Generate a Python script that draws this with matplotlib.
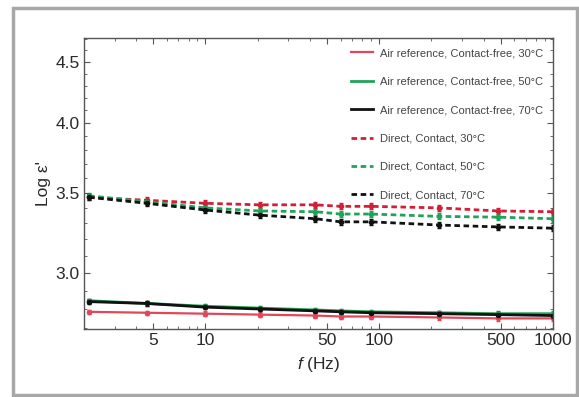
import numpy as np
import matplotlib
matplotlib.use("Agg")
import matplotlib.pyplot as plt
from matplotlib.patches import Rectangle
from matplotlib.lines import Line2D
from matplotlib.ticker import FixedLocator, NullFormatter, FixedFormatter, LogLocator

plt.rcParams['font.family'] = ['Liberation Sans', 'DejaVu Sans']
plt.rcParams['mathtext.fontset'] = 'custom'
plt.rcParams['mathtext.it'] = 'Liberation Sans:italic'
plt.rcParams['mathtext.rm'] = 'Liberation Sans'

# frequency points (Hz)
freq = [2.14, 4.6, 10, 20.5, 43, 60, 90, 220, 482, 1000]

# contact-free, air reference
air_30 = [2.785, 2.78, 2.775, 2.77, 2.765, 2.76, 2.76, 2.755, 2.75, 2.75]
air_50 = [2.845, 2.83, 2.815, 2.805, 2.795, 2.79, 2.785, 2.78, 2.775, 2.775]
air_70 = [2.84, 2.83, 2.81, 2.80, 2.79, 2.785, 2.78, 2.775, 2.77, 2.765]

# direct contact
dir_30 = [3.47, 3.45, 3.43, 3.42, 3.42, 3.41, 3.41, 3.40, 3.38, 3.375]
dir_50 = [3.48, 3.44, 3.40, 3.38, 3.375, 3.36, 3.36, 3.345, 3.34, 3.33]
dir_70 = [3.47, 3.43, 3.386, 3.353, 3.33, 3.31, 3.31, 3.29, 3.278, 3.27]

air_err = 0.012
dir_err = 0.02

labels = ['Air reference, Contact-free, 30\u00b0C',
          'Air reference, Contact-free, 50\u00b0C',
          'Air reference, Contact-free, 70\u00b0C',
          'Direct, Contact, 30\u00b0C',
          'Direct, Contact, 50\u00b0C',
          'Direct, Contact, 70\u00b0C']

red_light = '#e0485a'
red = '#d21f36'
green = '#1fa35a'
black = '#111111'
dash = (0, (2.0, 1.3))

fig = plt.figure(figsize=(5.79, 3.97), dpi=100)
ax = fig.add_axes([0.145, 0.171, 0.81, 0.733])

series = [
    (air_30, air_err, red_light, '-', 1.6),
    (air_50, air_err, green, '-', 2.0),
    (air_70, air_err, black, '-', 2.0),
    (dir_30, dir_err, red, dash, 2.0),
    (dir_50, dir_err, green, dash, 2.0),
    (dir_70, dir_err, black, dash, 2.0),
]

handles = []
for (vals, e, col, ls, lw), lab in zip(series, labels):
    ax.errorbar(freq, vals, yerr=e, color=col, linestyle=ls, lw=lw,
                marker='o', ms=3, capsize=1.5, elinewidth=1.2)
    handles.append(Line2D([], [], color=col, linestyle=ls, lw=lw, label=lab))

ax.set_xscale('log')
ax.set_yscale('log')
ax.set_xlim(2.0, 1000)
ax.set_ylim(2.694, 4.71)

ax.xaxis.set_major_locator(FixedLocator([5, 10, 50, 100, 500, 1000]))
ax.xaxis.set_major_formatter(FixedFormatter(['5', '10', '50', '100', '500', '1000']))
ax.xaxis.set_minor_locator(LogLocator(base=10, subs=np.arange(2, 10)))
ax.xaxis.set_minor_formatter(NullFormatter())

ax.yaxis.set_major_locator(FixedLocator([3.0, 3.5, 4.0, 4.5]))
ax.yaxis.set_major_formatter(FixedFormatter(['3.0', '3.5', '4.0', '4.5']))
ax.yaxis.set_minor_locator(FixedLocator(np.round(np.arange(2.7, 4.75, 0.1), 2)))
ax.yaxis.set_minor_formatter(NullFormatter())

ax.tick_params(which='both', direction='in', top=True, right=True,
               colors='#555555', labelcolor='#2a2a2a')
ax.tick_params(which='major', length=4, labelsize=12.5, pad=3)
ax.tick_params(which='minor', length=2)
for s in ax.spines.values():
    s.set_color('#555555')
    s.set_linewidth(1.0)

ax.set_xlabel('$f$ (Hz)', fontsize=12.5, color='#2a2a2a', labelpad=5)
ax.set_ylabel("Log \u03b5'", fontsize=12.5, color='#2a2a2a', labelpad=3)

ax.legend(handles=handles, loc='upper right', frameon=False,
          prop={'size': 8}, labelcolor='#444444', labelspacing=1.66,
          handlelength=2.0, handletextpad=0.6, borderaxespad=0.5)

fig.patches.append(Rectangle((0.0225, 0.005), 0.974, 0.976, transform=fig.transFigure,
                             fill=False, edgecolor='#a8a8a8', lw=2.5))

fig.savefig('out.png', dpi=100)
